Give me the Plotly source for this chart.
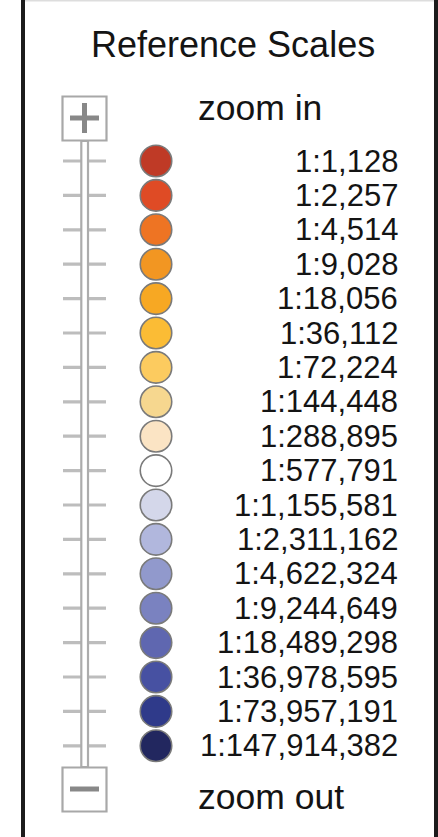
import plotly.graph_objects as go

# ---- data ----
scale_labels = ["1:1,128", "1:2,257", "1:4,514", "1:9,028", "1:18,056", "1:36,112",
                "1:72,224", "1:144,448", "1:288,895", "1:577,791", "1:1,155,581",
                "1:2,311,162", "1:4,622,324", "1:9,244,649", "1:18,489,298",
                "1:36,978,595", "1:73,957,191", "1:147,914,382"]
scale_colors = ["#BF3A26", "#DF4B25", "#EE7423", "#F29622", "#F7A823", "#FBBC35",
                "#FCCB5F", "#F6D78F", "#FBE4C4", "#FFFFFF", "#D4D7EA", "#B1B7DD",
                "#9199CC", "#7A82C0", "#5F67B0", "#4751A2", "#2F3A8A", "#22275F"]
title_text = "Reference Scales"
zoom_in_text = "zoom in"
zoom_out_text = "zoom out"

W, H = 438, 837
ROW0, ROWH = 161.0, 34.4   # pixel centre of first row, row pitch


def py(p):
    """pixel y -> row units"""
    return (p - ROW0) / ROWH


rows = list(range(len(scale_labels)))
FONT = "Liberation Sans, Arial, sans-serif"
TXT = "#141414"

fig = go.Figure()

shapes = []
# borders
shapes.append(dict(type="rect", xref="x", yref="y", x0=21, x1=25, y0=py(-5), y1=py(H + 5),
                   fillcolor="#1c1c1c", line=dict(width=0)))
shapes.append(dict(type="rect", xref="x", yref="y", x0=434, x1=439, y0=py(-5), y1=py(H + 5),
                   fillcolor="#1c1c1c", line=dict(width=0)))
shapes.append(dict(type="line", xref="x", yref="y", x0=25, x1=434, y0=py(0.7), y1=py(0.7),
                   line=dict(color="#dddddd", width=1.5)))
# ticks
for r in rows:
    shapes.append(dict(type="line", xref="x", yref="y", x0=63, x1=106, y0=r, y1=r,
                       line=dict(color="#bdbdbd", width=3.2)))
# track
shapes.append(dict(type="rect", xref="x", yref="y", x0=81.3, x1=88, y0=py(141), y1=py(767),
                   fillcolor="white", line=dict(color="#acacac", width=2.2)))
# plus box
shapes.append(dict(type="rect", xref="x", yref="y", x0=62.5, x1=106.5, y0=py(96.5), y1=py(140.5),
                   fillcolor="white", line=dict(color="#a8a8a8", width=2.2)))
shapes.append(dict(type="rect", xref="x", yref="y", x0=70, x1=99, y0=py(115.5), y1=py(120.5),
                   fillcolor="#888888", line=dict(width=0)))
shapes.append(dict(type="rect", xref="x", yref="y", x0=82, x1=87, y0=py(103), y1=py(133),
                   fillcolor="#888888", line=dict(width=0)))
# minus box
shapes.append(dict(type="rect", xref="x", yref="y", x0=62.5, x1=106.5, y0=py(767.5), y1=py(811.5),
                   fillcolor="white", line=dict(color="#a8a8a8", width=2.2)))
shapes.append(dict(type="rect", xref="x", yref="y", x0=70, x1=99, y0=py(786.5), y1=py(791.5),
                   fillcolor="#888888", line=dict(width=0)))

# circles
fig.add_trace(go.Scatter(
    x=[156] * len(rows), y=rows, mode="markers",
    marker=dict(size=31.5, color=scale_colors, line=dict(color="#7a7a7a", width=1.6)),
    hoverinfo="skip", showlegend=False))

annotations = []
for r, lab in zip(rows, scale_labels):
    annotations.append(dict(x=400, y=r, xref="x", yref="y", text=lab, showarrow=False,
                            xanchor="right", yanchor="middle",
                            font=dict(family=FONT, size=31, color=TXT)))
annotations.append(dict(x=232.5, y=py(44.5), xref="x", yref="y", text=title_text, showarrow=False,
                        xanchor="center", yanchor="middle",
                        font=dict(family=FONT, size=36, color=TXT)))
annotations.append(dict(x=196, y=py(108.2), xref="x", yref="y", text=zoom_in_text, showarrow=False,
                        xanchor="left", yanchor="middle",
                        font=dict(family=FONT, size=35.5, color=TXT)))
annotations.append(dict(x=196, y=py(797.2), xref="x", yref="y", text=zoom_out_text, showarrow=False,
                        xanchor="left", yanchor="middle",
                        font=dict(family=FONT, size=35.5, color=TXT)))

fig.update_layout(
    width=W, height=H, margin=dict(l=0, r=0, t=0, b=0),
    paper_bgcolor="white", plot_bgcolor="white",
    xaxis=dict(range=[0, W], visible=False, fixedrange=True),
    yaxis=dict(range=[py(H), py(0)], visible=False, fixedrange=True),
    shapes=shapes, annotations=annotations, showlegend=False,
)

fig.write_html("out.html", config={"displayModeBar": False},
               post_script="document.body.style.margin='0';document.body.style.overflow='hidden';")
